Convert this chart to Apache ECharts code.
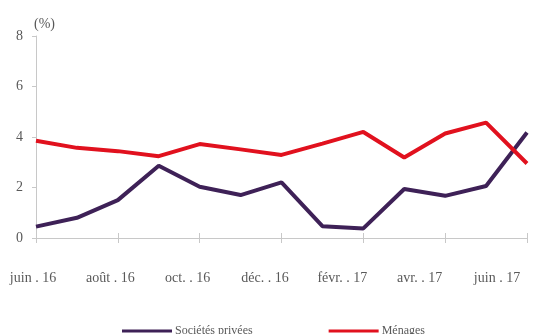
<!DOCTYPE html>
<html><head><meta charset="utf-8">
<script src="https://cdn.jsdelivr.net/npm/echarts@6/dist/echarts.min.js"></script>
<style>html,body{margin:0;padding:0;background:#fff}#c{width:553px;height:334px}</style>
</head><body><div id="c"></div>
<script>
const months = ['juin 16','juil. 16','août 16','sept. 16','oct. 16','nov. 16','déc. 16','janv. 17','févr. 17','mars 17','avr. 17','mai 17','juin 17'];
const tickLabels = ['juin . 16','août . 16','oct. . 16','déc. . 16','févr. . 17','avr. . 17','juin . 17'];
const societes = [0.45,0.80,1.50,2.86,2.03,1.70,2.20,0.47,0.38,1.94,1.67,2.06,4.18];
const menages  = [3.85,3.57,3.44,3.24,3.72,3.51,3.29,3.74,4.20,3.19,4.14,4.57,2.95];
const yTicks = [0,2,4,6,8];

const font = 'Liberation Serif';
const chart = echarts.init(document.getElementById('c'), null, {renderer:'canvas'});
chart.setOption({
  animation:false,
  textStyle:{fontFamily:font},
  title:{text:'(%)', left:29, top:12, textStyle:{fontFamily:font,fontSize:14,fontWeight:'normal',color:'#595959'}},
  grid:[
    {left:36, right:26, top:36, bottom:96},
    {left:33, right:56, top:36, bottom:96}
  ],
  legend:{
    left:117, top:320, itemWidth:50, itemHeight:3, itemGap:76,
    icon:'rect',
    textStyle:{fontFamily:font,fontSize:12,color:'#595959',padding:[0,0,0,-2]},
    data:['Sociétés privées','Ménages']
  },
  xAxis:[
    {type:'category', gridIndex:0, data:months, boundaryGap:false, position:'bottom',
     axisLine:{lineStyle:{color:'#c8c8c8',width:1}},
     axisTick:{interval:1, length:5, lineStyle:{color:'#c8c8c8'}},
     axisLabel:{show:false}, splitLine:{show:false}},
    {type:'category', gridIndex:1, data:tickLabels, boundaryGap:false,
     axisLine:{show:false}, axisTick:{show:false}, splitLine:{show:false},
     axisLabel:{interval:0, margin:33, fontFamily:font, fontSize:14, color:'#595959'}},
    {type:'category', gridIndex:0, data:months, boundaryGap:false, position:'bottom', offset:0,
     axisLine:{show:false},
     axisTick:{interval:1, inside:true, length:5, lineStyle:{color:'#c8c8c8'}},
     axisLabel:{show:false}, splitLine:{show:false}}
  ],
  yAxis:[
    {type:'value', gridIndex:0, min:0, max:8, interval:2,
     axisLine:{show:true, lineStyle:{color:'#c8c8c8'}},
     axisTick:{show:true, length:4, lineStyle:{color:'#c8c8c8'}},
     splitLine:{show:false},
     axisLabel:{margin:13, fontFamily:font, fontSize:14, color:'#595959',
       formatter:v=>yTicks.includes(v)?String(v):''}},
    {type:'value', gridIndex:1, min:0, max:8, show:false}
  ],
  series:[
    {name:'Sociétés privées', type:'line', data:societes, xAxisIndex:0, yAxisIndex:0,
     showSymbol:false, symbol:'none', lineStyle:{width:4, color:'#3e2157'}, itemStyle:{color:'#3e2157'}},
    {name:'Ménages', type:'line', data:menages, xAxisIndex:0, yAxisIndex:0,
     showSymbol:false, symbol:'none', lineStyle:{width:4, color:'#e1111e'}, itemStyle:{color:'#e1111e'}}
  ]
});
</script></body></html>
